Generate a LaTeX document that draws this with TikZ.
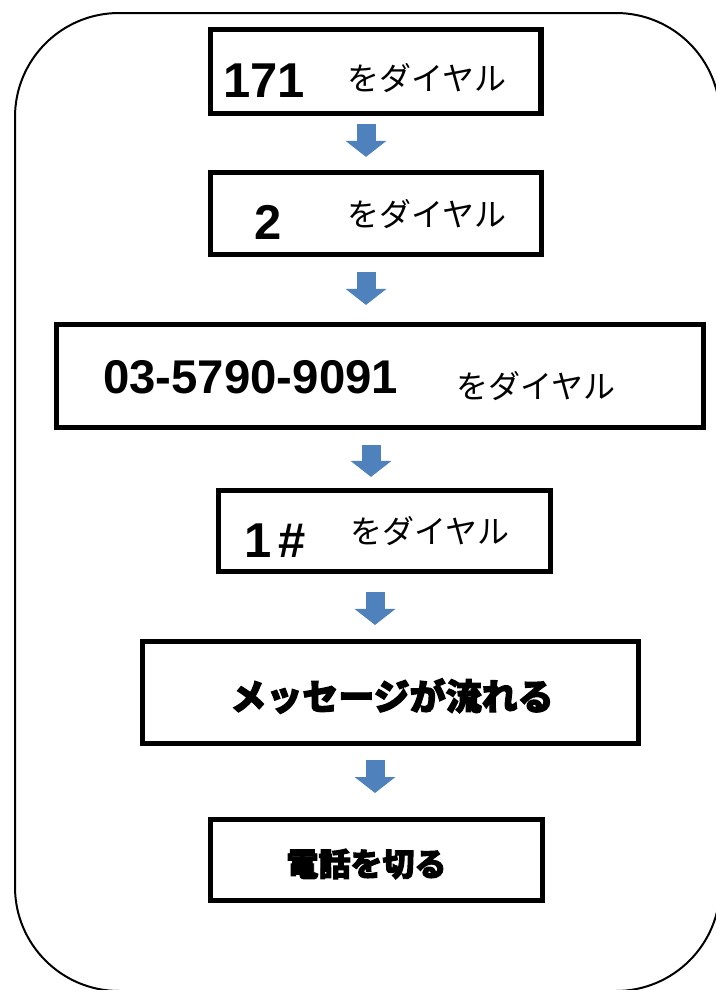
\documentclass[tikz,border=0pt]{standalone}
\usepackage{fontspec}
\newfontfamily\numfont{Liberation Sans}
\newfontfamily\jpfont{Noto Sans CJK JP}
\newfontfamily\jpheavy{Noto Sans CJK JP}[FakeBold=3]
\usetikzlibrary{arrows.meta}
\definecolor{stepblue}{HTML}{4F81BD}

\begin{document}
\begin{tikzpicture}[x=0.75pt,y=-0.75pt,
  box/.style={draw,line width=4pt,inner sep=0pt},
  num/.style={font=\numfont\bfseries\fontsize{36.7}{40}\selectfont,inner sep=0pt,anchor=base west},
  kana/.style={font=\jpfont\fontsize{24}{26}\selectfont,inner sep=0pt,anchor=base west},
  heavy/.style={font=\jpheavy\bfseries\fontsize{27}{30}\selectfont,inner sep=0pt},
  flow/.style={draw=stepblue,line width=14.25pt,-{Triangle[width=30pt,length=12pt]}}]

\useasboundingbox (0,0) rectangle (715,990);

% Outer frame
\draw[line width=1.5pt,rounded corners=78pt] (15,13) rectangle (720,991);

% Step boxes
\node[box,minimum width=248pt,minimum height=62.7pt] (b1) at (375.5,71.5) {};
\node[box,minimum width=248pt,minimum height=61.3pt] (b2) at (376,213.5) {};
\node[box,minimum width=485pt,minimum height=77pt] (b3) at (380,376) {};
\node[box,minimum width=248.8pt,minimum height=60.5pt] (b4) at (384.5,531) {};
\node[box,minimum width=371.8pt,minimum height=76.3pt] (b5) at (390.5,692.5) {};
\node[box,minimum width=248.8pt,minimum height=60.5pt] (b6) at (376.5,860) {};

% Labels
\node[num] (n1) at (223,97) {171};
\node[kana] (k1) at (347,90) {をダイヤル};
\node[num] (n2) at (254.5,239) {2};
\node[kana] (k2) at (347,226) {をダイヤル};
\node[num,font=\numfont\bfseries\fontsize{35.5}{38}\selectfont] (n3) at (103,393) {03-5790-9091};
\node[kana] (k3) at (456,398) {をダイヤル};
\node[num] (n4) at (244,557) {1\kern5pt\#};
\node[kana] (k4) at (350,543) {をダイヤル};
\node[heavy] (t5) at (392,696) {メッセージが流れる};
\node[heavy,font=\jpheavy\bfseries\fontsize{24}{26}\selectfont] (t6) at (366.5,864) {電話を切る};

% Arrows
\draw[flow,shorten <=6pt,shorten >=9.8pt] (366,0 |- b1.south) -- (366,0 |- b2.north);
\draw[flow,shorten <=11.3pt,shorten >=12.8pt] (366,0 |- b2.south) -- (366,0 |- b3.north);
\draw[flow,shorten <=11.3pt,shorten >=8.3pt] (371,0 |- b3.south) -- (371,0 |- b4.north);
\draw[flow,shorten <=13.5pt,shorten >=10.5pt] (375,0 |- b4.south) -- (375,0 |- b5.north);
\draw[flow,shorten <=10.5pt,shorten >=18pt] (375,0 |- b5.south) -- (375,0 |- b6.north);
\end{tikzpicture}
\end{document}
